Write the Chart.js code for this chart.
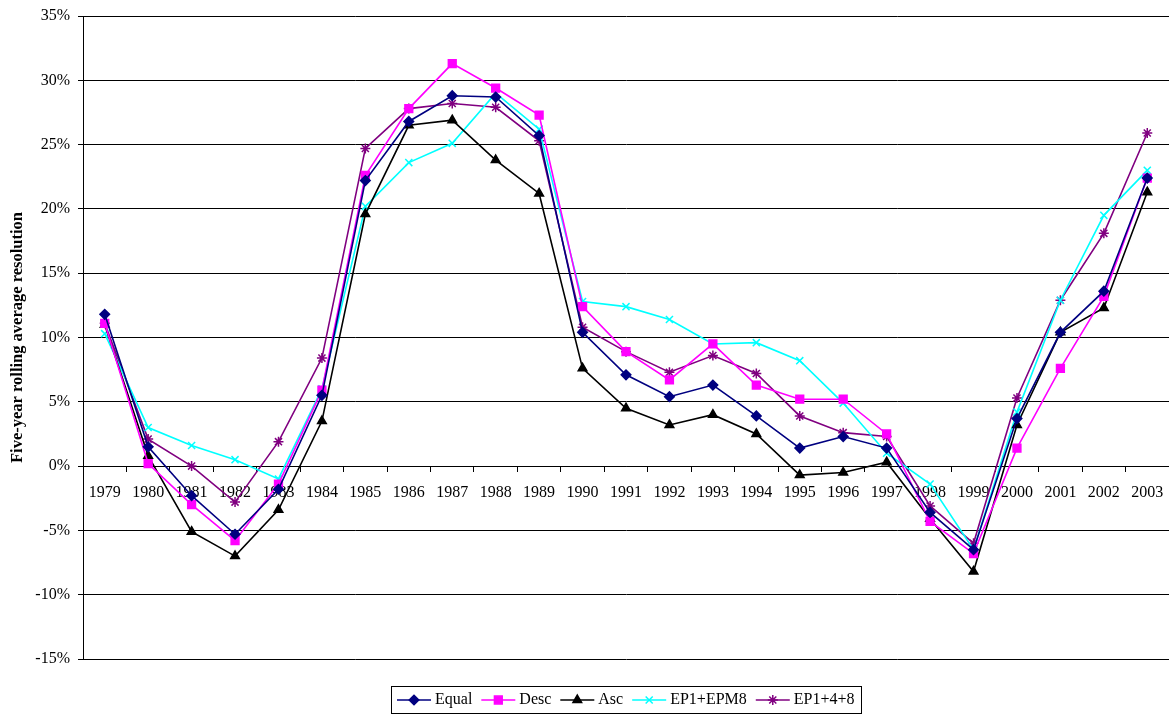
<!DOCTYPE html>
<html>
<head>
<meta charset="utf-8">
<script src="https://cdn.jsdelivr.net/npm/chart.js@4"></script>
<style>
  html, body { margin: 0; padding: 0; background: #fff; }
  #wrap { width: 1169px; height: 714px; }
</style>
</head>
<body>
<div id="wrap"><canvas id="chart" width="1169" height="714"></canvas></div>
<script>
const years = ['1979','1980','1981','1982','1983','1984','1985','1986','1987','1988','1989','1990',
  '1991','1992','1993','1994','1995','1996','1997','1998','1999','2000','2001','2002','2003'];

// values in percent
const equal = [11.8, 1.5, -2.3, -5.3, -1.8, 5.5, 22.2, 26.8, 28.8, 28.7, 25.7, 10.4,
  7.1, 5.4, 6.3, 3.9, 1.4, 2.3, 1.4, -3.6, -6.5, 3.7, 10.4, 13.6, 22.4];
const desc = [11.1, 0.2, -3.0, -5.8, -1.4, 5.9, 22.6, 27.8, 31.3, 29.4, 27.3, 12.4,
  8.9, 6.7, 9.5, 6.3, 5.2, 5.2, 2.5, -4.3, -6.8, 1.4, 7.6, 13.2, 22.4];
const asc = [11.0, 0.8, -5.1, -7.0, -3.4, 3.5, 19.6, 26.5, 26.9, 23.8, 21.2, 7.6,
  4.5, 3.2, 4.0, 2.5, -0.7, -0.5, 0.3, -4.1, -8.2, 3.2, 10.4, 12.3, 21.3];
const ep1epm8 = [10.3, 3.0, 1.6, 0.5, -1.0, 6.0, 20.2, 23.6, 25.1, 29.0, 26.2, 12.8,
  12.4, 11.4, 9.5, 9.6, 8.2, 4.9, 1.0, -1.4, -6.5, 4.2, 12.9, 19.5, 23.0];
const ep148 = [11.1, 2.1, 0.0, -2.8, 1.9, 8.4, 24.7, 27.8, 28.2, 27.9, 25.3, 10.8,
  8.9, 7.3, 8.6, 7.2, 3.9, 2.6, 2.3, -3.1, -6.0, 5.3, 12.9, 18.1, 25.9];

const yTicks = [-15, -10, -5, 0, 5, 10, 15, 20, 25, 30, 35];

const serif = "'Liberation Serif', 'Times New Roman', serif";

function series(label, data, color, pointStyle, radius) {
  return {
    label, data,
    borderColor: color,
    backgroundColor: color,
    pointBackgroundColor: color,
    pointBorderColor: color,
    pointStyle,
    pointRadius: radius,
    pointBorderWidth: 1.5,
    borderWidth: 1.6,
    tension: 0,
    fill: false
  };
}

const datasets = [
  series('Equal', equal, '#000080', 'rectRot', 4.8),
  series('Desc', desc, '#FF00FF', 'rect', 5.5),
  series('Asc', asc, '#000000', 'triangle', 5),
  series('EP1+EPM8', ep1epm8, '#00FFFF', 'crossRot', 5),
  series('EP1+4+8', ep148, '#800080', 'star', 5)
];

// boxed legend with line + marker, centred under the plot area
const boxLegend = {
  id: 'boxLegend',
  afterDraw(chart) {
    const ctx = chart.ctx;
    const area = chart.chartArea;
    ctx.save();
    ctx.font = '16px ' + serif;
    const lineLen = 34, gap = 4, after = 9, pad = 6;
    let total = pad * 2;
    const widths = datasets.map(d => ctx.measureText(d.label).width);
    widths.forEach(w => { total += lineLen + gap + w + after; });
    total -= after;
    const cx = (area.left + area.right) / 2;
    const top = 686, h = 27;
    let x = Math.round(cx - total / 2);
    ctx.strokeStyle = '#000';
    ctx.lineWidth = 1;
    ctx.strokeRect(x + 0.5, top + 0.5, Math.round(total), h);
    const cy = top + h / 2 + 0.5;
    x += pad;
    datasets.forEach((d, i) => {
      ctx.strokeStyle = d.borderColor;
      ctx.fillStyle = d.borderColor;
      ctx.lineWidth = 1.6;
      ctx.beginPath();
      ctx.moveTo(x, cy);
      ctx.lineTo(x + lineLen, cy);
      ctx.stroke();
      ctx.lineWidth = 1.5;
      Chart.helpers.drawPoint(ctx, { pointStyle: d.pointStyle, radius: d.pointRadius, borderWidth: 1.5, rotation: 0 }, x + lineLen / 2, cy);
      ctx.fillStyle = '#000';
      ctx.textBaseline = 'middle';
      ctx.textAlign = 'left';
      ctx.fillText(d.label, x + lineLen + gap, cy);
      x += lineLen + gap + widths[i] + after;
    });
    ctx.restore();
  }
};

new Chart(document.getElementById('chart'), {
  type: 'line',
  data: { labels: years, datasets },
  options: {
    responsive: false,
    animation: false,
    devicePixelRatio: 1,
    layout: { autoPadding: false, padding: { top: 16, bottom: 55, right: 0, left: 0 } },
    plugins: {
      legend: { display: false },
      tooltip: { enabled: false }
    },
    scales: {
      x: {
        type: 'category',
        position: { y: 0 },
        offset: true,
        afterFit(scale) { scale.paddingLeft = 0; scale.paddingRight = 0; },
        grid: {
          offset: true,
          drawOnChartArea: false,
          drawTicks: true,
          tickLength: 5,
          color: '#000'
        },
        border: { display: true, color: '#000', width: 1 },
        ticks: {
          color: '#000',
          padding: 12,
          maxRotation: 0,
          autoSkip: false,
          font: { family: serif, size: 16 }
        }
      },
      y: {
        min: -15,
        max: 35,
        afterBuildTicks(scale) {
          scale.ticks = yTicks.map(v => ({ value: v }));
        },
        afterFit(scale) { scale.width = 83; scale.paddingTop = 0; scale.paddingBottom = 0; },
        grid: {
          color: '#000',
          lineWidth: 1,
          tickLength: 5
        },
        border: { display: true, color: '#000', width: 1 },
        ticks: {
          color: '#000',
          padding: 8,
          font: { family: serif, size: 16 },
          callback: v => v + '%'
        },
        title: {
          display: true,
          text: 'Five-year rolling average resolution',
          color: '#000',
          padding: { top: 8, bottom: 0 },
          font: { family: serif, size: 16.5, weight: 'bold' }
        }
      }
    }
  },
  plugins: [boxLegend]
});
</script>
</body>
</html>
